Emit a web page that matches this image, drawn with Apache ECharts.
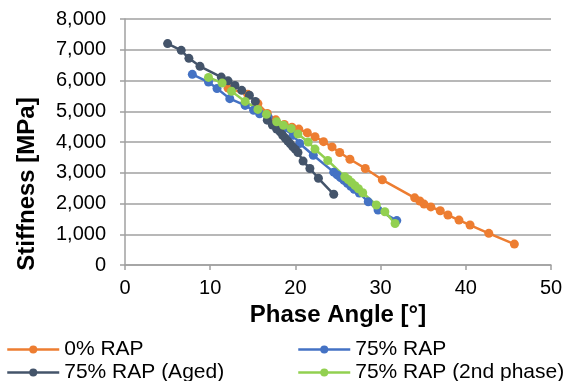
<!DOCTYPE html>
<html>
<head>
<meta charset="utf-8">
<script src="https://cdn.jsdelivr.net/npm/echarts@6/dist/echarts.min.js"></script>
<style>
  html, body { margin: 0; padding: 0; background: #fff; }
  #chart { width: 569px; height: 381px; }
</style>
</head>
<body>
<div id="chart"></div>
<script>
const seriesNames = ['0% RAP', '75% RAP', '75% RAP (Aged)', '75% RAP (2nd phase)'];

// phase angle [°] / stiffness [MPa]
const rap0Angle = [12.1, 14.4, 15.6, 16.7, 17.7, 18.7, 19.6, 20.4, 21.4, 22.3, 23.3, 24.3, 25.2, 26.4, 28.2, 30.2, 34.0, 34.6, 35.1, 35.9, 37.0, 37.9, 39.2, 40.5, 42.7, 45.7];
const rap0Stiff = [5750, 5550, 5250, 4930, 4720, 4570, 4480, 4420, 4300, 4170, 4010, 3840, 3660, 3440, 3140, 2770, 2185, 2080, 1980, 1890, 1765, 1625, 1460, 1300, 1030, 680];

const rap75Angle = [7.9, 9.8, 10.8, 12.3, 14.1, 15.1, 15.8, 16.8, 17.8, 18.6, 19.75, 20.5, 22.1, 24.5, 24.9, 25.3, 25.7, 26.1, 26.5, 26.9, 27.5, 28.55, 29.7, 31.9];
const rap75Stiff = [6200, 5950, 5740, 5410, 5190, 5030, 4920, 4810, 4600, 4440, 4220, 3950, 3570, 3020, 2930, 2840, 2750, 2660, 2560, 2460, 2340, 2055, 1790, 1445];

const agedAngle = [5.0, 6.6, 7.5, 8.8, 11.3, 12.1, 12.9, 13.7, 14.6, 15.3, 16.7, 17.3, 17.8, 18.2, 18.5, 18.8, 19.1, 19.4, 19.7, 20.0, 20.3, 20.9, 21.7, 22.7, 24.5];
const agedStiff = [7200, 6980, 6720, 6460, 6110, 5990, 5840, 5680, 5520, 5320, 4710, 4550, 4420, 4330, 4220, 4130, 4030, 3940, 3840, 3760, 3660, 3380, 3140, 2820, 2300];

const phase2Angle = [9.8, 11.4, 12.5, 14.1, 15.6, 16.6, 17.8, 18.6, 19.5, 20.3, 21.5, 22.3, 23.8, 25.8, 26.2, 26.6, 27.0, 27.4, 27.9, 29.5, 30.5, 31.7];
const phase2Stiff = [6100, 5920, 5650, 5320, 5060, 4900, 4660, 4545, 4440, 4260, 4000, 3770, 3400, 2870, 2780, 2680, 2580, 2480, 2350, 1950, 1730, 1350];

const colors = ['#ED7D31', '#4472C4', '#44546A', '#92D050'];

const pairs = (xs, ys) => xs.map((x, i) => [x, ys[i]]);
const dataSets = [
  pairs(rap0Angle, rap0Stiff),
  pairs(rap75Angle, rap75Stiff),
  pairs(agedAngle, agedStiff),
  pairs(phase2Angle, phase2Stiff),
];

const chart = echarts.init(document.getElementById('chart'));
const font = 'Arial, "Liberation Sans", sans-serif';
const gridGrey = '#A0A0A0';

// one legend per entry so the two columns line up like the original
const legendSpots = [[6, 339], [297, 339], [6, 362], [297, 362]];
const legends = seriesNames.map((name, i) => ({
  data: [name],
  left: legendSpots[i][0],
  top: legendSpots[i][1],
  padding: 0,
  itemWidth: 52,
  itemHeight: 10,
  lineStyle: { width: 2.5 },
  textStyle: { fontFamily: font, fontSize: 21, color: '#000' },
}));

chart.setOption({
  animation: false,
  color: colors,
  grid: { left: 125, right: 18, top: 19, bottom: 116 },
  legend: legends,
  xAxis: {
    type: 'value',
    min: 0,
    max: 50,
    interval: 10,
    name: 'Phase Angle [°]',
    nameLocation: 'middle',
    nameGap: 36,
    nameTextStyle: { fontFamily: font, fontSize: 24, fontWeight: 'bold', color: '#000' },
    axisLine: { lineStyle: { color: gridGrey, width: 1.5 } },
    axisTick: { show: true, length: 5, lineStyle: { color: gridGrey, width: 1.5 } },
    axisLabel: { fontFamily: font, fontSize: 20, color: '#000', margin: 13 },
    splitLine: { show: false },
  },
  yAxis: {
    type: 'value',
    min: 0,
    max: 8000,
    interval: 1000,
    name: 'Stiffness [MPa]',
    nameLocation: 'middle',
    nameGap: 86,
    nameTextStyle: { fontFamily: font, fontSize: 24, fontWeight: 'bold', color: '#000', padding: [0, 84, 0, 0] },
    axisLine: { show: true, lineStyle: { color: gridGrey, width: 1.5 } },
    axisTick: { show: true, length: 5, lineStyle: { color: gridGrey, width: 1.5 } },
    axisLabel: {
      fontFamily: font, fontSize: 20, color: '#000', margin: 19,
      formatter: v => v.toLocaleString('en-US'),
    },
    splitLine: { lineStyle: { color: gridGrey, width: 1.5 } },
  },
  series: dataSets.map((d, i) => ({
    name: seriesNames[i],
    type: 'line',
    data: d,
    symbol: 'circle',
    symbolSize: 9,
    showSymbol: true,
    lineStyle: { width: 2.5 },
    itemStyle: { color: colors[i] },
  })),
});
</script>
</body>
</html>
